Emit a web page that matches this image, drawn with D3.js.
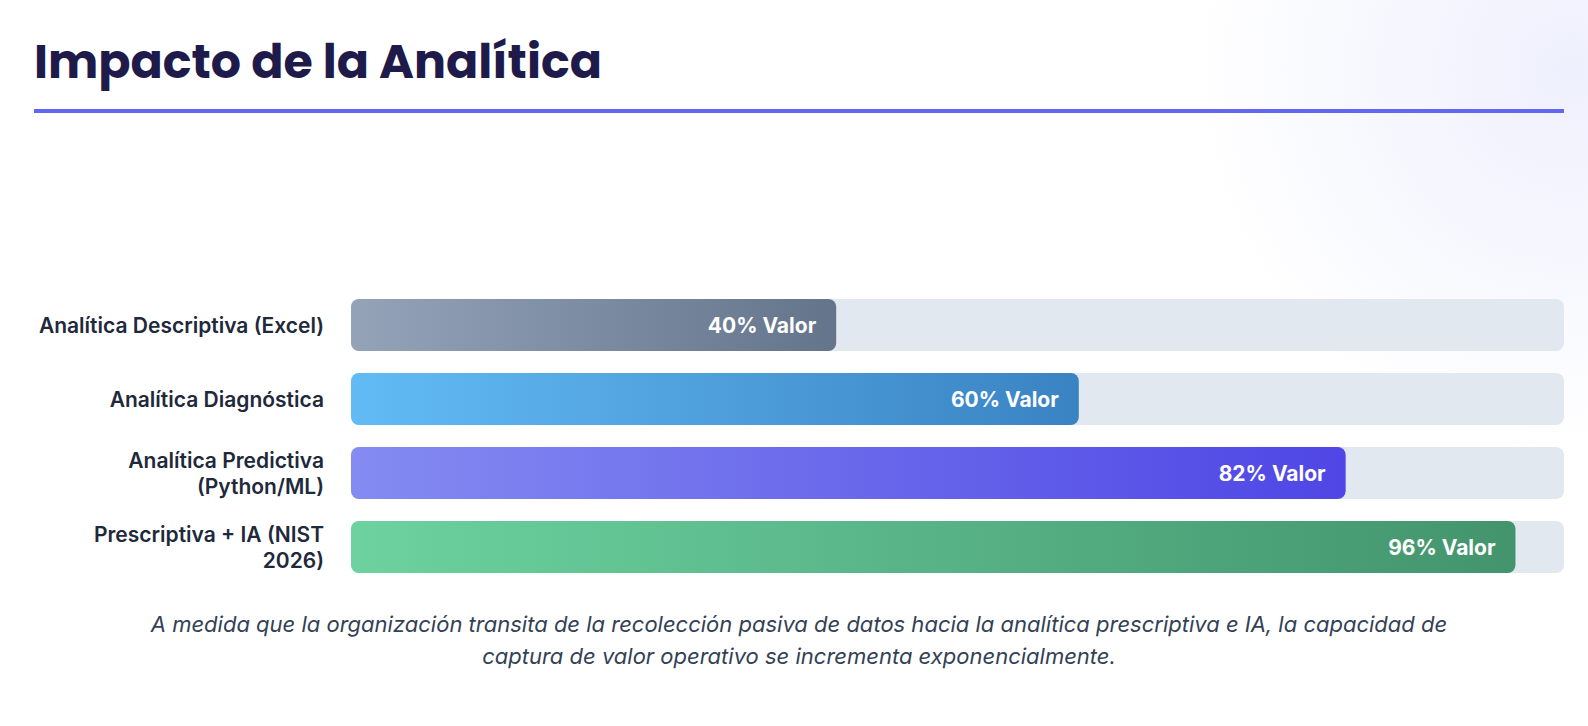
<!DOCTYPE html>
<html lang="es">
<head>
<meta charset="utf-8">
<title>Impacto de la Analítica</title>
<script src="https://cdn.jsdelivr.net/npm/d3@7"></script>
<style>
  html, body { margin: 0; padding: 0; background: #fff; }
  svg { display: block; }
</style>
</head>
<body>
<div id="chart"></div>
<script>
const categories = [
  "Analítica Descriptiva (Excel)",
  "Analítica Diagnóstica",
  "Analítica Predictiva (Python/ML)",
  "Prescriptiva + IA (NIST 2026)"
];
const values = [40, 60, 82, 96];
const valueSuffix = "% Valor";
const gradientStops = [
  ["#94a3b8", "#64748b"],
  ["#62bbf4", "#3a83c3"],
  ["#848bf1", "#4f46e5"],
  ["#6cd29f", "#43946d"]
];
const title = "Impacto de la Analítica";
const caption = "A medida que la organización transita de la recolección pasiva de datos hacia la analítica prescriptiva e IA, la capacidad de captura de valor operativo se incrementa exponencialmente.";

const width = 1588;
const height = 726;
const margin = { top: 299, right: 24, left: 351 };

const svg = d3.select("#chart")
  .append("svg")
  .attr("width", width)
  .attr("height", height);

const defs = svg.append("defs");

// faint lavender glow in the top right corner
const glow = defs.append("radialGradient")
  .attr("id", "glow")
  .attr("gradientUnits", "userSpaceOnUse")
  .attr("cx", 1570).attr("cy", 70).attr("r", 380);
glow.append("stop").attr("offset", "0%").attr("stop-color", "#eef0fd");
glow.append("stop").attr("offset", "100%").attr("stop-color", "#ffffff");

svg.append("rect")
  .attr("width", width)
  .attr("height", height)
  .attr("fill", "url(#glow)");

// title + underline
svg.append("text")
  .attr("x", 34)
  .attr("y", 78)
  .attr("fill", "#1e1b4b")
  .style("font-family", "Poppins, Lato, sans-serif")
  .style("font-weight", 700)
  .style("font-size", "47.5px")
  .text(title);

svg.append("rect")
  .attr("x", 34)
  .attr("y", 109)
  .attr("width", 1530)
  .attr("height", 4)
  .attr("fill", "#6366f1");

const x = d3.scaleLinear()
  .domain([0, 100])
  .range([margin.left, width - margin.right]);

const y = d3.scaleBand()
  .domain(categories)
  .range([margin.top, margin.top + 274])
  .paddingInner(0.297)
  .paddingOuter(0);

gradientStops.forEach((c, i) => {
  const g = defs.append("linearGradient")
    .attr("id", "bar" + i)
    .attr("x1", "0%").attr("x2", "100%")
    .attr("y1", "0%").attr("y2", "0%");
  g.append("stop").attr("offset", "0%").attr("stop-color", c[0]);
  g.append("stop").attr("offset", "100%").attr("stop-color", c[1]);
});

const data = categories.map((c, i) => ({ category: c, value: values[i], idx: i }));

const rows = svg.selectAll("g.row")
  .data(data)
  .enter()
  .append("g")
  .attr("class", "row");

// track
rows.append("rect")
  .attr("x", x(0))
  .attr("y", d => y(d.category))
  .attr("width", x(100) - x(0))
  .attr("height", y.bandwidth())
  .attr("rx", 8).attr("ry", 8)
  .attr("fill", "#e2e8f0");

// value bar
rows.append("rect")
  .attr("x", x(0))
  .attr("y", d => y(d.category))
  .attr("width", d => x(d.value) - x(0))
  .attr("height", y.bandwidth())
  .attr("rx", 8).attr("ry", 8)
  .attr("fill", d => `url(#bar${d.idx})`);

rows.append("text")
  .attr("x", d => x(d.value) - 20)
  .attr("y", d => y(d.category) + y.bandwidth() / 2)
  .attr("dy", "0.36em")
  .attr("text-anchor", "end")
  .attr("fill", "#ffffff")
  .style("font-family", "Inter, sans-serif")
  .style("font-weight", 700)
  .style("font-size", "21px")
  .text(d => d.value + valueSuffix);

// wraps words of a text element into tspans no wider than maxW
const wrapLines = (t, str, maxW) => {
  const words = str.split(" ");
  let lines = [], line = [];
  const probe = t.append("tspan");
  words.forEach(w => {
    line.push(w);
    probe.text(line.join(" "));
    if (probe.node().getComputedTextLength() > maxW && line.length > 1) {
      line.pop();
      lines.push(line.join(" "));
      line = [w];
    }
  });
  lines.push(line.join(" "));
  probe.remove();
  return lines;
};

// category labels
const lineHeight = 26;
rows.append("text")
  .attr("class", "label")
  .attr("text-anchor", "end")
  .attr("fill", "#1e293b")
  .style("font-family", "Inter, sans-serif")
  .style("font-weight", 600)
  .style("font-size", "21px")
  .each(function (d) {
    const t = d3.select(this);
    const lines = wrapLines(t, d.category, 292);
    const cy = y(d.category) + y.bandwidth() / 2;
    const y0 = cy - (lines.length - 1) * lineHeight / 2;
    lines.forEach((l, k) => {
      t.append("tspan")
        .attr("x", x(0) - 27)
        .attr("y", y0 + k * lineHeight)
        .attr("dy", "0.36em")
        .text(l);
    });
  });

// caption
const cap = svg.append("text")
  .attr("text-anchor", "middle")
  .attr("fill", "#334155")
  .style("font-family", "Inter, sans-serif")
  .style("font-style", "italic")
  .style("font-size", "22px");

wrapLines(cap, caption, 1340).forEach((l, k) => {
  cap.append("tspan")
    .attr("x", 799)
    .attr("y", 624 + k * 32)
    .attr("dy", "0.36em")
    .text(l);
});
</script>
</body>
</html>
